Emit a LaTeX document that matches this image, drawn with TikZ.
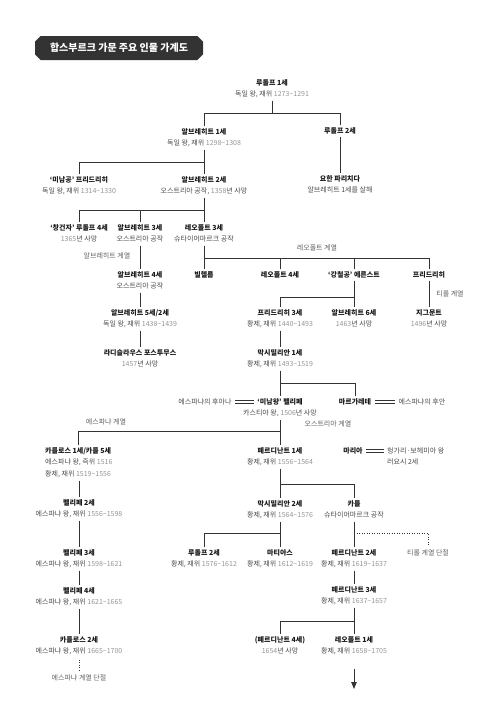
\documentclass[tikz,border=0pt]{standalone}
\usepackage{fontspec}
\setmainfont{Noto Sans CJK KR}
\usetikzlibrary{positioning,shapes.misc,arrows.meta}

\definecolor{inkgray}{HTML}{333333}
\definecolor{subgray}{HTML}{4A4A4A}
\definecolor{yeargray}{HTML}{959595}
\newcommand{\yr}[1]{\textcolor{yeargray}{#1}}
\newcommand{\reign}[2]{\textcolor{yeargray}{#1\textasciitilde#2}}

\tikzset{
  pname/.style={font=\fontsize{7}{11}\selectfont\bfseries, text=black!90,
    inner sep=2pt, text height=5.5pt, text depth=1.5pt},
  psub/.style={font=\fontsize{7}{11}\selectfont, text=subgray,
    inner sep=2pt, text height=5.5pt, text depth=1.5pt},
  branch/.style={font=\fontsize{7}{11}\selectfont, text=black!62},
  link/.style={draw=inkgray, line width=0.9pt},
  marry/.style={draw=inkgray, line width=0.6pt, shorten <=1.5pt, shorten >=1.5pt},
  extinct/.style={draw=inkgray, line width=0.9pt, dash pattern=on 1.2pt off 1.3pt},
}

\begin{document}
\begin{tikzpicture}[x=1pt, y=-1pt, node distance=0.5pt]

    \useasboundingbox (0,0) rectangle (500,724);

    % --- Titulo ---
    \node[chamfered rectangle, chamfered rectangle xsep=2pt, fill=inkgray,
      minimum width=168pt, minimum height=24pt, text=white,
      font=\fontsize{10}{12}\selectfont\bfseries] (title) at (119,48)
      {합스부르크 가문 주요 인물 가계도};

    % --- Rudolf I y sus hijos ---
    \node[pname] (rud1) at (272,83) {루돌프 1세};
    \node[psub, below=of rud1] (rud1-s) {독일 왕, 재위 \reign{1273}{1291}};
    \node[pname] (alb1) at (204,132) {알브레히트 1세};
    \node[psub, below=of alb1] (alb1-s) {독일 왕, 재위 \reign{1298}{1308}};
    \node[pname] (rud2) at (340,131) {루돌프 2세};
    \node[pname] (johann) at (340,179) {요한 파리치다};
    \node[psub, below=of johann] (johann-s) {알브레히트 1세를 살해};

    \draw[link] (rud1-s) -- (rud1-s |- 0,113);
    \draw[link] (alb1) |- (rud2 |- 0,113) -- (rud2);
    \draw[link] (rud2) -- (johann);

    % --- Hijos de Albrecht I ---
    \node[pname] (fried) at (79,180) {‘미남공’ 프리드리히};
    \node[psub, below=of fried] (fried-s) {독일 왕, 재위 \reign{1314}{1330}};
    \node[pname] (alb2) at (204,180) {알브레히트 2세};
    \node[psub, below=of alb2] (alb2-s) {오스트리아 공작, \yr{1358}년 사망};

    \draw[link] (alb1-s) -- (alb2);
    \draw[link] (fried) |- (alb1-s |- 0,162);

    % --- Hijos de Albrecht II ---
    \node[pname] (rud4) at (79,228) {‘창건자’ 루돌프 4세};
    \node[psub, below=of rud4] (rud4-s) {\yr{1365}년 사망};
    \node[pname] (alb3) at (140,228) {알브레히트 3세};
    \node[psub, below=of alb3] (alb3-s) {오스트리아 공작};
    \node[pname] (leo3) at (204,228) {레오폴트 3세};
    \node[psub, below=of leo3] (leo3-s) {슈타이어마르크 공작};

    \draw[link] (alb2-s) -- (leo3);
    \draw[link] (rud4) |- (alb2-s |- 0,210);
    \draw[link] (alb3) -- (alb3 |- 0,210);

    % --- Linea albertina ---
    \node[branch] (albline) at (107,256) {알브레히트 계열};
    \node[pname] (alb4) at (140,275) {알브레히트 4세};
    \node[psub, below=of alb4] (alb4-s) {오스트리아 공작};
    \node[pname] (alb5) at (140,313) {알브레히트 5세/2세};
    \node[psub, below=of alb5] (alb5-s) {독일 왕, 재위 \reign{1438}{1439}};
    \node[pname] (ladis) at (140,353) {라디슬라우스 포스투무스};
    \node[psub, below=of ladis] (ladis-s) {\yr{1457}년 사망};

    \draw[link] (alb3-s) -- (alb4);
    \draw[link] (alb4-s) -- (alb5);
    \draw[link] (alb5-s) -- (ladis);

    % --- Linea leopoldina ---
    \node[branch] (leoline) at (317,248) {레오폴트 계열};
    \node[pname] (wilh) at (204,275) {빌헬름};
    \node[pname] (leo4) at (280,275) {레오폴트 4세};
    \node[pname] (ernst) at (354,275) {‘강철공’ 에른스트};
    \node[pname] (friedT) at (429,275) {프리드리히};

    \draw[link] (leo3-s) -- (wilh);
    \draw[link] (leo3-s |- 0,258) -| (friedT);
    \draw[link] (leo4) -- (leo4 |- 0,258);
    \draw[link] (ernst) -- (ernst |- 0,258);

    % --- Hijos de Ernst y linea tirolesa ---
    \node[pname] (fried3) at (280,313) {프리드리히 3세};
    \node[psub, below=of fried3] (fried3-s) {황제, 재위 \reign{1440}{1493}};
    \node[pname] (alb6) at (354,313) {알브레히트 6세};
    \node[psub, below=of alb6] (alb6-s) {\yr{1463}년 사망};
    \node[branch] (tirline) at (450,294) {티롤 계열};
    \node[pname] (sigm) at (429,313) {지그문트};
    \node[psub, below=of sigm] (sigm-s) {\yr{1496}년 사망};

    \draw[link] (ernst) -- (alb6);
    \draw[link] (fried3) |- (ernst |- 0,297);
    \draw[link] (friedT) -- (sigm);

    % --- Maximiliano I ---
    \node[pname] (max1) at (280,353) {막시밀리안 1세};
    \node[psub, below=of max1] (max1-s) {황제, 재위 \reign{1493}{1519}};

    \draw[link] (fried3-s) -- (max1);

    % --- Felipe el Hermoso y Margarita ---
    \node[pname] (felipe) at (280,402) {‘미남왕’ 펠리페};
    \node[psub, below=of felipe] (felipe-s) {카스티야 왕, \yr{1506}년 사망};
    \node[psub] (juana) at (205,402) {에스파냐의 후아나};
    \node[pname] (marg) at (355,402) {마르가레테};
    \node[psub] (juan) at (422,402) {에스파냐의 후안};

    \draw[link] (max1-s) -- (felipe);
    \draw[link] (max1-s |- 0,383) -| (marg);
    % doble linea = matrimonio
    \draw[marry] ([yshift=1.3pt]juana.east) -- ([yshift=1.3pt]felipe.west);
    \draw[marry] ([yshift=-1.3pt]juana.east) -- ([yshift=-1.3pt]felipe.west);
    \draw[marry] ([yshift=1.3pt]marg.east) -- ([yshift=1.3pt]juan.west);
    \draw[marry] ([yshift=-1.3pt]marg.east) -- ([yshift=-1.3pt]juan.west);

    % --- Hijos de Felipe ---
    \node[branch] (espline) at (106,422) {에스파냐 계열};
    \node[branch] (ausline) at (328,424) {오스트리아 계열};
    \node[pname, anchor=west] (carlos) at (43,451) {카를로스 1세/카를 5세};
    \node[psub, below=of carlos.south west, anchor=north west] (carlos-s1) {에스파냐 왕, 즉위 \yr{1516}};
    \node[psub, below=of carlos-s1.south west, anchor=north west] (carlos-s2) {황제, 재위 \reign{1519}{1556}};
    \node[pname] (ferd1) at (280,451) {페르디난트 1세};
    \node[psub, below=of ferd1] (ferd1-s) {황제, 재위 \reign{1556}{1564}};
    \node[pname] (maria) at (353,451) {마리아};
    \node[psub, anchor=west] (lajos1) at (385,451) {헝가리·보헤미아 왕};
    \node[psub, below=of lajos1.south west, anchor=north west] (lajos2) {러요시 2세};

    \draw[link] (felipe-s) -- (ferd1);
    \draw[link] (carlos) |- (felipe-s |- 0,431);
    \draw[marry] ([yshift=1.3pt]maria.east) -- ([yshift=1.3pt]lajos1.west);
    \draw[marry] ([yshift=-1.3pt]maria.east) -- ([yshift=-1.3pt]lajos1.west);

    % --- Linea espanola ---
    \node[pname] (felipe2) at (79,503) {펠리페 2세};
    \node[psub, below=of felipe2] (felipe2-s) {에스파냐 왕, 재위 \reign{1556}{1598}};
    \node[pname] (felipe3) at (79,553) {펠리페 3세};
    \node[psub, below=of felipe3] (felipe3-s) {에스파냐 왕, 재위 \reign{1598}{1621}};
    \node[pname] (felipe4) at (79,591) {펠리페 4세};
    \node[psub, below=of felipe4] (felipe4-s) {에스파냐 왕, 재위 \reign{1621}{1665}};
    \node[pname] (carlos2) at (79,640) {카를로스 2세};
    \node[psub, below=of carlos2] (carlos2-s) {에스파냐 왕, 재위 \reign{1665}{1700}};
    \node[branch] (espend) at (79,678) {에스파냐 계열 단절};

    \draw[link] (felipe2 |- carlos-s2.south) -- (felipe2);
    \draw[link] (felipe2-s) -- (felipe3);
    \draw[link] (felipe3-s) -- (felipe4);
    \draw[link] (felipe4-s) -- (carlos2);
    \draw[extinct, shorten <=2pt] (carlos2-s) -- (espend);

    % --- Linea austriaca ---
    \node[pname] (max2) at (280,504) {막시밀리안 2세};
    \node[psub, below=of max2] (max2-s) {황제, 재위 \reign{1564}{1576}};
    \node[pname] (karl) at (354,504) {카를};
    \node[psub, below=of karl] (karl-s) {슈타이어마르크 공작};

    \draw[link] (ferd1-s) -- (max2);
    \draw[link] (ferd1-s |- 0,484) -| (karl);

    \node[pname] (rud2b) at (204,553) {루돌프 2세};
    \node[psub, below=of rud2b] (rud2b-s) {황제, 재위 \reign{1576}{1612}};
    \node[pname] (matth) at (280,553) {마티아스};
    \node[psub, below=of matth] (matth-s) {황제, 재위 \reign{1612}{1619}};
    \node[pname] (ferd2) at (354,553) {페르디난트 2세};
    \node[psub, below=of ferd2] (ferd2-s) {황제, 재위 \reign{1619}{1637}};
    \node[branch] (tirend) at (428,553) {티롤 계열 단절};

    \draw[link] (max2-s) -- (matth);
    \draw[link] (rud2b) |- (max2-s |- 0,533);
    \draw[link] (karl-s) -- (ferd2);
    \draw[extinct] (karl-s |- 0,533) -| (tirend);

    \node[pname] (ferd3) at (354,590) {페르디난트 3세};
    \node[psub, below=of ferd3] (ferd3-s) {황제, 재위 \reign{1637}{1657}};
    \node[pname] (ferd4) at (280,640) {(페르디난트 4세)};
    \node[psub, below=of ferd4] (ferd4-s) {\yr{1654}년 사망};
    \node[pname] (leo1) at (354,640) {레오폴트 1세};
    \node[psub, below=of leo1] (leo1-s) {황제, 재위 \reign{1658}{1705}};
    \coordinate (next) at (354,689);

    \draw[link] (ferd2-s) -- (ferd3);
    \draw[link] (ferd3-s) -- (leo1);
    \draw[link] (ferd4) |- (ferd3-s |- 0,621);
    \draw[link, -{Triangle[length=7pt, width=5.5pt]}, shorten <=11pt] (leo1-s) -- (next);

\end{tikzpicture}
\end{document}
